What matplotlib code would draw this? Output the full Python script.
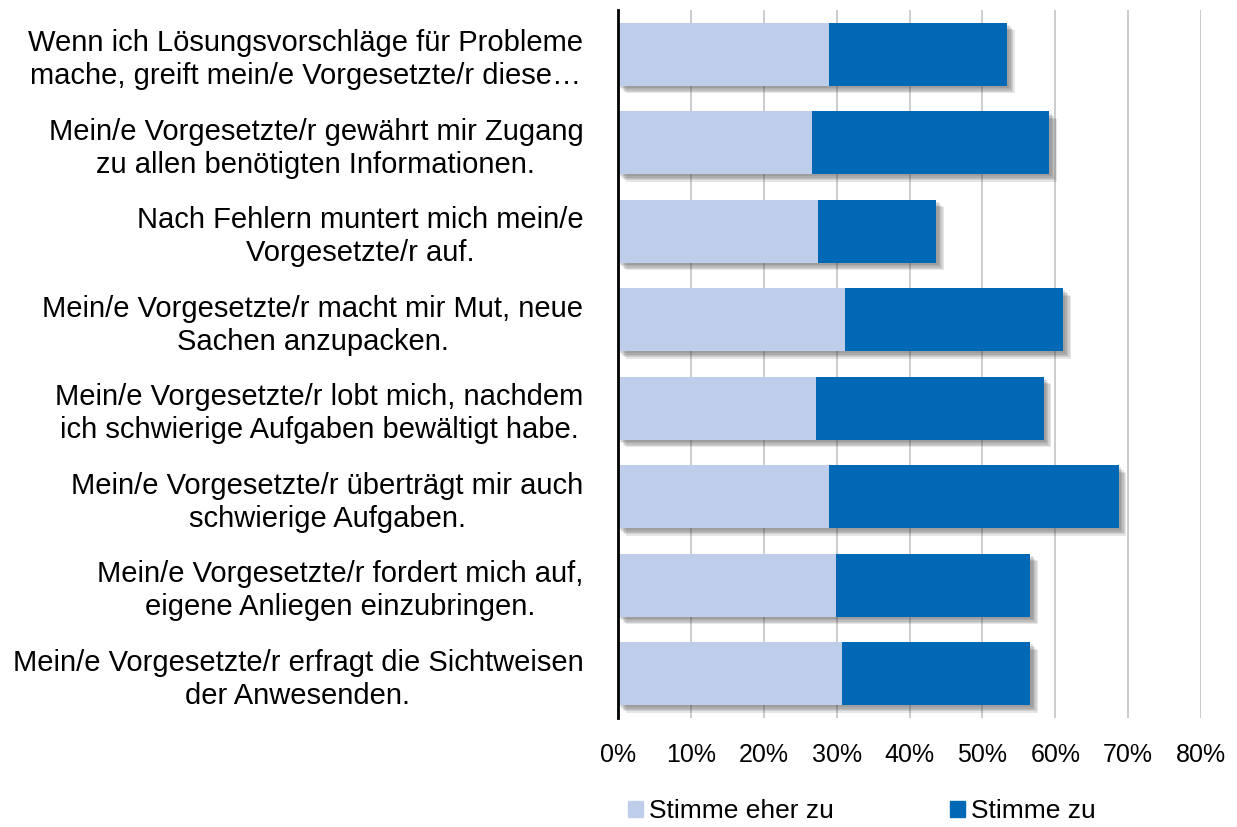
import matplotlib.pyplot as plt
import matplotlib.patheffects as pe
from matplotlib.patches import Patch
from matplotlib.ticker import PercentFormatter

plt.rcParams['font.family'] = ['Liberation Sans', 'DejaVu Sans']

# labels listed bottom to top
labels = [
    "Mein/e Vorgesetzte/r erfragt die Sichtweisen\nder Anwesenden.",
    "Mein/e Vorgesetzte/r fordert mich auf,\neigene Anliegen einzubringen.",
    "Mein/e Vorgesetzte/r überträgt mir auch\nschwierige Aufgaben.",
    "Mein/e Vorgesetzte/r lobt mich, nachdem\nich schwierige Aufgaben bewältigt habe.",
    "Mein/e Vorgesetzte/r macht mir Mut, neue\nSachen anzupacken.",
    "Nach Fehlern muntert mich mein/e\nVorgesetzte/r auf.",
    "Mein/e Vorgesetzte/r gewährt mir Zugang\nzu allen benötigten Informationen.",
    "Wenn ich Lösungsvorschläge für Probleme\nmache, greift mein/e Vorgesetzte/r diese…",
]
eher_zu = [0.308, 0.299, 0.289, 0.272, 0.312, 0.275, 0.266, 0.290]
zu = [0.258, 0.267, 0.398, 0.312, 0.299, 0.162, 0.326, 0.244]

light = '#BDCDEA'
dark = '#0068B4'

fig = plt.figure(figsize=(12.37, 8.27), dpi=100)
ax = fig.add_axes([618 / 1237, 1 - 718 / 827, (1201 - 618) / 1237, (718 - 10) / 827])

y = range(len(labels))
totals = [a + b for a, b in zip(eher_zu, zu)]

# soft drop shadow behind each whole bar
shadow = [pe.SimplePatchShadow(offset=(d, -d), shadow_rgbFace='#404040', alpha=0.13)
          for d in (1.5, 2.5, 3.5, 4.5, 5.5)]
sh = ax.barh(y, totals, height=0.71, color='none', zorder=2)
for bar in sh:
    bar.set_path_effects(shadow)

ax.barh(y, eher_zu, height=0.71, color=light, zorder=3)
ax.barh(y, zu, left=eher_zu, height=0.71, color=dark, zorder=3)

ax.set_xlim(0, 0.8)
ax.set_ylim(-0.5, len(labels) - 0.5)
ax.set_xticks([i / 10 for i in range(9)])
ax.xaxis.set_major_formatter(PercentFormatter(1.0, decimals=0))
ax.set_yticks(list(y))
ax.set_yticklabels(labels, ha='right', multialignment='center', fontsize=21, linespacing=1.22)
ax.tick_params(axis='y', length=0, pad=25)
ax.tick_params(axis='x', length=0, pad=18, labelsize=18)
ax.grid(axis='x', color='#C8C8C8', linewidth=1.3, zorder=0)
for s in ['top', 'right', 'bottom']:
    ax.spines[s].set_visible(False)
ax.spines['left'].set_linewidth(2)
ax.spines['left'].set_zorder(5)

handles = [Patch(color=light, label='Stimme eher zu'), Patch(color=dark, label='Stimme zu')]
fig.legend(handles=handles, loc='center', bbox_to_anchor=(862 / 1237, 1 - 811 / 827), ncol=2,
           frameon=False, fontsize=19, handlelength=0.55, handleheight=0.55, handletextpad=0.25,
           columnspacing=4.4)

fig.savefig('out.png', dpi=100)
